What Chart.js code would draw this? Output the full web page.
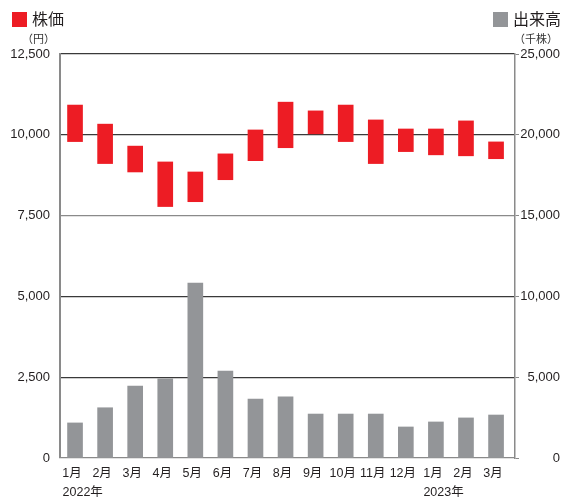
<!DOCTYPE html>
<html>
<head>
<meta charset="utf-8">
<script src="https://cdn.jsdelivr.net/npm/chart.js@4"></script>
<style>
  body { margin: 0; background: #fff; }
  #wrap { position: relative; width: 562px; height: 499px; font-family: 'Liberation Sans', 'Noto Sans CJK JP', sans-serif; color: #231f20; }
  #wrap canvas { position: absolute; left: 0; top: 0; }
  .key { position: absolute; top: 8px; font-size: 16px; line-height: 20px; font-family: 'Noto Sans CJK JP', sans-serif; }
  .key i { display: inline-block; width: 15px; height: 15px; vertical-align: -2px; margin-right: 5px; }
  .unit { position: absolute; top: 31px; font-size: 11px; line-height: 14px; font-family: 'Noto Sans CJK JP', sans-serif; color: #333; }
</style>
</head>
<body>
<div id="wrap">
  <canvas id="myChart" width="562" height="499"></canvas>
  <div class="key" style="left:12px"><i style="background:#ed1c24"></i>株価</div>
  <div class="key" style="left:493px"><i style="background:#939598"></i>出来高</div>
  <div class="unit" style="left:22px">（円）</div>
  <div class="unit" style="left:514px">（千株）</div>
</div>
<script>
const months = ['1月', '2月', '3月', '4月', '5月', '6月', '7月', '8月', '9月', '10月', '11月', '12月', '1月', '2月', '3月'];
const years = ['2022年', '', '', '', '', '', '', '', '', '', '', '', '2023年', '', ''];

// 株価 (円): monthly low / high
const priceLow = [9790, 9110, 8850, 7780, 7930, 8610, 9200, 9600, 10030, 9790, 9110, 9480, 9380, 9350, 9260];
const priceHigh = [10920, 10330, 9650, 9160, 8850, 9410, 10150, 11010, 10740, 10920, 10460, 10180, 10180, 10430, 9780];

// 出来高 (千株)
const volume = [2170, 3110, 4450, 4900, 10830, 5380, 3650, 3780, 2720, 2720, 2720, 1920, 2230, 2480, 2660];

const fmt = v => v.toLocaleString('en-US');

// month / year labels under the bars
const xLabels = {
    id: 'xLabels',
    afterDraw(chart) {
        const ctx = chart.ctx;
        const xs = chart.scales.x;
        ctx.save();
        ctx.fillStyle = '#231f20';
        ctx.font = "12.5px 'Liberation Sans', 'Noto Sans CJK JP', sans-serif";
        ctx.textBaseline = 'middle';
        months.forEach((m, i) => {
            const x = xs.getPixelForValue(i);
            ctx.textAlign = 'center';
            ctx.fillText(m, x - 3, 474);
            if (years[i]) {
                ctx.textAlign = 'left';
                ctx.fillText(years[i], x - 12.5, 493);
            }
        });
        ctx.restore();
    }
};

const ctx1 = document.getElementById('myChart').getContext('2d');
const myChart = new Chart(ctx1, {
    type: 'bar',
    data: {
        datasets: [
            {
                label: '株価',
                data: months.map((m, i) => ({ x: i, y: [priceLow[i], priceHigh[i]] })),
                backgroundColor: '#ed1c24',
                yAxisID: 'y',
                barThickness: 15,
                grouped: false
            },
            {
                label: '出来高',
                data: months.map((m, i) => ({ x: i, y: volume[i] })),
                backgroundColor: '#939598',
                yAxisID: 'y1',
                barThickness: 15,
                grouped: false
            }
        ]
    },
    options: {
        responsive: false,
        animation: false,
        layout: { padding: { top: 54, right: 2, bottom: 0, left: 0 } },
        plugins: {
            legend: { display: false },
            tooltip: { enabled: false }
        },
        scales: {
            x: {
                type: 'linear',
                offset: false,
                min: -0.5,
                max: 14.63,
                ticks: { display: false },
                grid: { display: false },
                border: { display: false },
                afterFit: s => { s.height = 41; }
            },
            y: {
                position: 'left',
                min: 0,
                max: 12500,
                ticks: {
                    stepSize: 2500,
                    padding: 10,
                    color: '#231f20',
                    font: { family: "'Liberation Sans', sans-serif", size: 13 },
                    callback: v => fmt(v)
                },
                grid: {
                    drawTicks: false,
                    lineWidth: 1.2,
                    color: c => (c.tick && (c.tick.value === 7500 || c.tick.value === 0)) ? '#8a8a8a' : '#3a3a3a'
                },
                border: { color: '#8a8a8a', width: 2 },
                afterFit: s => { s.width = 60; }
            },
            y1: {
                position: 'right',
                min: 0,
                max: 25000,
                ticks: {
                    stepSize: 5000,
                    padding: 4,
                    crossAlign: 'far',
                    color: '#231f20',
                    font: { family: "'Liberation Sans', sans-serif", size: 13 },
                    callback: v => fmt(v)
                },
                grid: { drawOnChartArea: false, drawTicks: true, tickLength: 4, color: '#8a8a8a' },
                border: { color: '#8a8a8a', width: 1.5 },
                afterFit: s => { s.width = 45; }
            }
        }
    },
    plugins: [xLabels]
});
</script>
</body>
</html>
